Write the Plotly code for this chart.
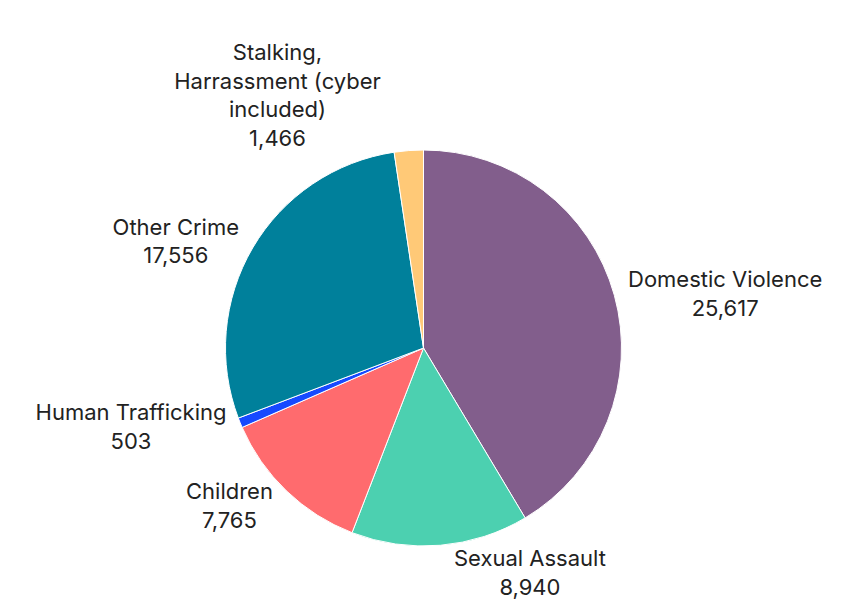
import plotly.graph_objects as go

labels = ["Domestic Violence", "Sexual Assault", "Children", "Human Trafficking",
          "Other Crime", "Stalking, Harrassment (cyber included)"]
display_labels = ["Domestic Violence", "Sexual Assault", "Children", "Human Trafficking",
                  "Other Crime", "Stalking,<br>Harrassment (cyber<br>included)"]
values = [25617, 8940, 7765, 503, 17556, 1466]
colors = ["#825E8C", "#4CD0B0", "#FF6B6E", "#1749FF", "#00809B", "#FFC977"]

fig = go.Figure(go.Pie(
    labels=labels,
    values=values,
    customdata=display_labels,
    texttemplate="%{customdata}<br>%{value:,}",
    textposition="outside",
    sort=False,
    direction="clockwise",
    rotation=0,
    marker=dict(colors=colors, line=dict(color="white", width=1)),
    textfont=dict(family="Inter, Lato, sans-serif", size=22, color="#222222"),
    showlegend=False,
    hoverinfo="label+value",
))
fig.update_layout(
    width=842, height=611,
    margin=dict(l=0, r=0, t=142, b=73),
    paper_bgcolor="white",
    plot_bgcolor="white",
)
fig.write_html("out.html")
